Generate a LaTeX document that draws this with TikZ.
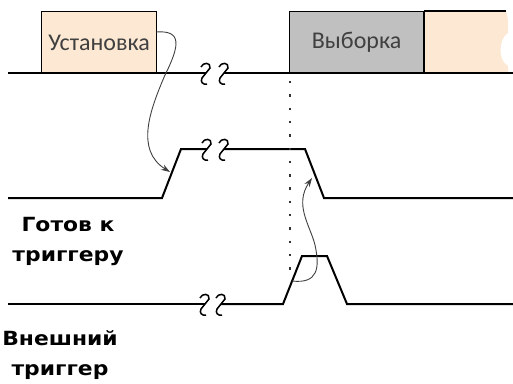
\documentclass[tikz,border=0pt]{standalone}
\usepackage{fontspec}
\setmainfont{Carlito}
\newfontfamily\lblfont[FakeStretch=1.12]{DejaVu Sans}
\usetikzlibrary{arrows.meta}
\definecolor{peach}{HTML}{FDE9D3}
\definecolor{boxgray}{HTML}{C0C0C0}
\definecolor{txtgray}{HTML}{404040}
\begin{document}
\begin{tikzpicture}[x=1pt,y=-1pt,
  sig/.style={line width=2pt, line join=miter},
  boxst/.style={draw=black, line width=1.2pt, inner sep=0pt, anchor=north west,
    text=txtgray, font=\fontsize{24}{26}\selectfont},
  lbl/.style={align=center, font=\lblfont\bfseries\fontsize{19.5}{30}\selectfont, text=black},
  conn/.style={draw=txtgray, line width=0.9pt, -{Stealth[length=9pt,width=6pt]}},
  dots/.style={draw=black!80, line width=2.4pt, dash pattern=on 2.4pt off 10.9pt},
  squig/.style={line width=1.5pt}
]
\useasboundingbox (0,0) rectangle (513,383);
% break pic
\tikzset{brk/.pic={
  \draw[squig] (-5,-6) .. controls (-3,-11) and (5,-11) .. (4,-5)
     -- (-4,5) .. controls (-6,9) and (-3,12) .. (1,11);
}}
% boxes
\node[boxst, fill=peach, minimum width=115pt, minimum height=62pt] (inst) at (41,11) {Установка};
\node[boxst, fill=boxgray, minimum width=134pt, minimum height=62pt] (vyb) at (289,11) {Выборка};
\coordinate (pk0) at (vyb.north east);
\coordinate (pk1) at (506,11);
\fill[peach] (pk0) -- (pk1) .. controls (508,18) .. (508,33) .. controls (499,38) and (497,60) .. (508,66) -- (508,73) -- (vyb.south east) -- cycle;
\draw[line width=1.2pt] (pk0) -- (pk1);
\draw[line width=1.2pt] (vyb.north east) -- (vyb.south east);
% top line
\coordinate (t0) at (8,73); \coordinate (t1) at (206,73);
\coordinate (t2) at (224,73); \coordinate (t3) at (513,73);
\draw[sig] (t0) -- (t1); \draw[sig] (t2) -- (t3);
\pic at (206,73) {brk}; \pic at (224,73) {brk};
% middle signal
\coordinate (m0) at (8,198); \coordinate (m1) at (162,198);
\coordinate (m2) at (181,149); \coordinate (m3) at (207,149);
\coordinate (m4) at (224,149); \coordinate (m5) at (305,149);
\coordinate (m6) at (324,198); \coordinate (m7) at (513,198);
\draw[sig] (m0) -- (m1) -- (m2) -- (m3);
\draw[sig] (m4) -- (m5) -- (m6) -- (m7);
\pic at (207,149) {brk}; \pic at (224,149) {brk};
% bottom signal
\coordinate (b0) at (8,304); \coordinate (b1) at (205,304);
\coordinate (b2) at (221,304); \coordinate (b3) at (283,304);
\coordinate (b4) at (302,256); \coordinate (b5) at (327,256);
\coordinate (b6) at (347,304); \coordinate (b7) at (513,304);
\draw[sig] (b0) -- (b1);
\draw[sig] (b2) -- (b3) -- (b4) -- (b5) -- (b6) -- (b7);
\pic at (205,304) {brk}; \pic at (221,304) {brk};
% dotted line
\coordinate (d0) at (290,81); \coordinate (d1) at (290,280);
\draw[dots] (d0) -- (d1);
% connectors
\coordinate (a1s) at (156,32); \coordinate (a1e) at (170,172);
\draw[conn] (a1s) .. controls (182,30) and (180,45) .. (165,75)
   .. controls (150,110) and (135,150) .. (a1e);
\coordinate (a2s) at (292,281); \coordinate (a2e) at (312,178);
\draw[conn] (a2s) .. controls (318,284) and (320,268) .. (315,245)
   .. controls (310,225) and (294,205) .. (a2e);
% labels
\node[lbl] (rdy) at (68,241) {Готов к\\триггеру};
\node[lbl] (ext) at (60,355) {Внешний\\триггер};
\end{tikzpicture}
\end{document}
